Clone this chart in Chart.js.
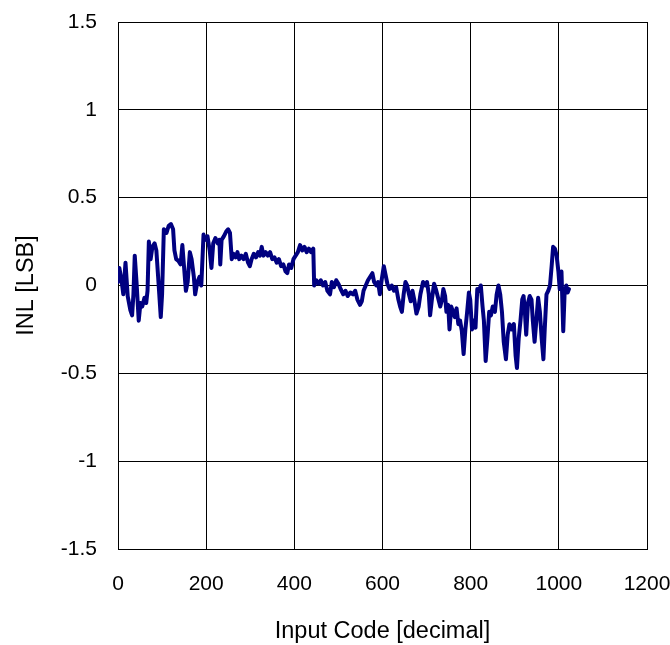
<!DOCTYPE html>
<html>
<head>
<meta charset="utf-8">
<script src="https://cdn.jsdelivr.net/npm/chart.js@4/dist/chart.umd.min.js"></script>
<style>
  html, body { margin: 0; padding: 0; background: #fff; }
  #wrap { width: 670px; height: 645px; }
</style>
</head>
<body>
<div id="wrap"><canvas id="c" width="670" height="645"></canvas></div>
<script>
const codes = [0,3,8,12,17,22,28,32,35,38,42,47,51,55,60,64,67,70,74,78,83,87,91,97,100,104,110,115,120,125,128,132,137,142,146,150,154,158,163,167,172,175,180,185,189,194,198,203,208,212,216,221,226,230,232,235,240,246,250,254,258,262,267,271,275,280,285,290,295,299,303,308,313,318,322,326,330,335,340,345,350,355,360,365,370,375,380,384,388,393,398,403,408,413,418,423,428,433,438,443,445,450,455,460,465,470,475,481,485,490,495,500,505,511,516,521,527,533,538,543,549,553,557,562,567,572,577,581,586,590,594,598,603,607,611,616,621,626,631,636,640,644,648,652,656,660,664,668,672,677,682,686,692,697,701,705,708,712,717,721,726,731,735,738,742,745,749,752,756,760,764,768,772,776,780,784,788,792,796,799,803,807,811,815,819,823,827,830,834,838,842,846,850,855,859,863,867,871,875,880,884,888,893,898,902,905,909,913,917,920,923,926,930,934,938,941,945,949,953,957,961,965,968,972,976,980,984,987,991,995,999,1002,1006,1010,1013,1017,1020,1023];
const inl = [0.02,0.10,0.03,-0.05,0.13,-0.06,-0.14,-0.17,-0.05,0.17,0.02,-0.20,-0.10,-0.12,-0.07,-0.10,-0.03,0.25,0.15,0.22,0.24,0.20,0.05,-0.18,-0.05,0.32,0.30,0.34,0.35,0.32,0.20,0.15,0.14,0.12,0.23,0.10,-0.03,0.02,0.19,0.15,0.05,-0.05,0.02,0.05,0.00,0.29,0.26,0.28,0.20,0.10,0.24,0.27,0.24,0.26,0.12,0.26,0.28,0.31,0.32,0.30,0.15,0.18,0.16,0.19,0.15,0.17,0.15,0.18,0.13,0.11,0.15,0.18,0.16,0.19,0.17,0.22,0.17,0.19,0.17,0.19,0.15,0.16,0.13,0.15,0.11,0.12,0.08,0.07,0.12,0.10,0.15,0.17,0.19,0.23,0.20,0.22,0.19,0.21,0.19,0.21,0.00,0.03,0.01,0.03,0.00,0.02,-0.03,-0.05,0.02,-0.01,0.03,0.01,-0.02,-0.05,-0.03,-0.06,-0.04,-0.05,-0.03,-0.08,-0.11,-0.09,-0.03,0.00,0.03,0.05,0.07,0.02,0.00,0.02,-0.05,0.03,0.11,0.06,0.01,-0.02,0.00,-0.03,-0.01,-0.08,-0.12,-0.15,-0.05,0.02,0.00,-0.05,-0.09,-0.03,-0.08,-0.16,-0.12,-0.05,0.02,0.00,0.02,-0.05,-0.17,-0.08,0.01,-0.02,-0.07,-0.12,-0.08,-0.02,-0.06,-0.15,-0.11,-0.25,-0.12,-0.15,-0.18,-0.13,-0.22,-0.20,-0.26,-0.39,-0.25,-0.15,-0.04,-0.08,-0.25,-0.20,-0.24,-0.02,-0.03,0.00,-0.12,-0.20,-0.43,-0.30,-0.15,-0.17,-0.12,-0.15,-0.05,0.00,-0.05,-0.15,-0.32,-0.42,-0.28,-0.22,-0.25,-0.22,-0.40,-0.47,-0.30,-0.20,-0.08,-0.06,-0.15,-0.28,-0.10,-0.06,-0.08,-0.20,-0.32,-0.20,-0.07,-0.15,-0.30,-0.42,-0.25,-0.05,-0.03,0.00,0.12,0.22,0.21,0.17,0.08,-0.02,0.08,-0.26,-0.05,0.00,-0.04,-0.02];
const xTicks = [0, 200, 400, 600, 800, 1000, 1200];
const yTicks = [-1.5, -1, -0.5, 0, 0.5, 1, 1.5];
const xTitle = 'Input Code [decimal]';
const yTitle = 'INL [LSB]';

const FONT = "Arial, 'Liberation Sans', sans-serif";
const points = codes.map((c, i) => ({ x: c, y: inl[i] }));

new Chart(document.getElementById('c'), {
  type: 'line',
  data: {
    datasets: [{
      data: points,
      borderColor: '#000080',
      backgroundColor: '#000080',
      borderWidth: 4,
      pointRadius: 0,
      tension: 0,
      fill: false,
      borderJoinStyle: 'round',
      borderCapStyle: 'round'
    }]
  },
  options: {
    responsive: false,
    animation: false,
    devicePixelRatio: 1,
    layout: { padding: { top: 22, right: 23, left: 0, bottom: 0 } },
    plugins: { legend: { display: false }, tooltip: { enabled: false } },
    scales: {
      x: {
        type: 'linear',
        min: xTicks[0], max: xTicks[xTicks.length - 1],
        afterBuildTicks: s => { s.ticks = xTicks.map(v => ({ value: v })); },
        afterFit: s => { s.height = 96; s.paddingLeft = 0; s.paddingRight = 0; },
        grid: { color: '#000', lineWidth: 1, drawTicks: false },
        border: { color: '#000', width: 1 },
        ticks: { color: '#000', font: { family: FONT, size: 21 }, padding: 23, maxRotation: 0, callback: v => String(v) },
        title: { display: true, text: xTitle, color: '#000', font: { family: FONT, size: 23.5 }, padding: { top: 0, bottom: -1 } }
      },
      y: {
        type: 'linear',
        min: yTicks[0], max: yTicks[yTicks.length - 1],
        afterBuildTicks: s => { s.ticks = yTicks.map(v => ({ value: v })); },
        afterFit: s => { s.width = 118; s.paddingTop = 0; s.paddingBottom = 0; },
        grid: { color: '#000', lineWidth: 1, drawTicks: false },
        border: { color: '#000', width: 1 },
        ticks: { color: '#000', font: { family: FONT, size: 21 }, padding: 21, callback: v => String(v) },
        title: { display: true, text: yTitle, color: '#000', font: { family: FONT, size: 23.5 }, padding: { top: 12, bottom: 0 } }
      }
    }
  }
});
</script>
</body>
</html>
